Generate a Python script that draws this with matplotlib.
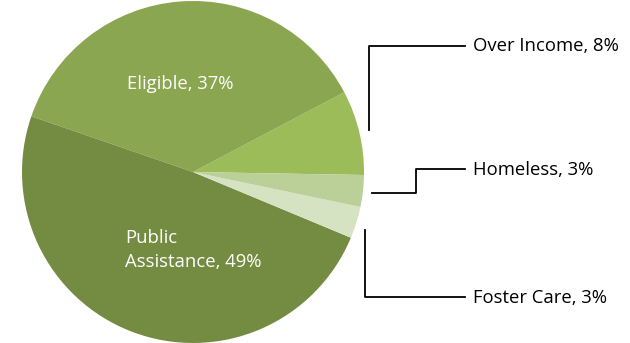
import matplotlib.pyplot as plt

labels = ["Over Income, 8%", "Eligible, 37%", "Public\nAssistance, 49%", "Foster Care, 3%", "Homeless, 3%"]
values = [8, 37, 49, 3, 3]
colors = ["#9cbb59", "#8ba650", "#748c41", "#d6e3c3", "#bad098"]

H = 343
plt.rcParams["font.family"] = ["Open Sans", "DejaVu Sans"]
fs = 13.3

fig = plt.figure(figsize=(6.3, 3.43), dpi=100)
ax = fig.add_axes([0, 0, 1, 1])

ax.pie(values, colors=colors, startangle=-1, counterclock=True,
       center=(193, H - 172), radius=171, frame=True,
       wedgeprops=dict(linewidth=0))

ax.set_xlim(0, 630)
ax.set_ylim(0, H)
ax.set_aspect("auto")
ax.axis("off")


def px(x, y):
    return x, H - y


# labels inside the pie
ax.text(*px(180, 84), labels[1], color="white", fontsize=fs, ha="center", va="center")
ax.text(*px(125, 250), labels[2], color="white", fontsize=fs, ha="left", va="center",
        linespacing=1.45)

# leader lines and outside labels
lw = 1.3
oi = [px(369, 130), px(369, 46), px(465, 46)]
ax.plot([p[0] for p in oi], [p[1] for p in oi], color="black", lw=lw)
ax.text(*px(473, 46), labels[0], fontsize=fs, ha="left", va="center")

hl = [px(372, 193), px(416, 193), px(416, 169), px(465, 169)]
ax.plot([p[0] for p in hl], [p[1] for p in hl], color="black", lw=lw)
ax.text(*px(473, 170), labels[4], fontsize=fs, ha="left", va="center")

fc = [px(365, 230), px(365, 297), px(465, 297)]
ax.plot([p[0] for p in fc], [p[1] for p in fc], color="black", lw=lw)
ax.text(*px(473, 298), labels[3], fontsize=fs, ha="left", va="center")

fig.savefig("out.png", dpi=100)
